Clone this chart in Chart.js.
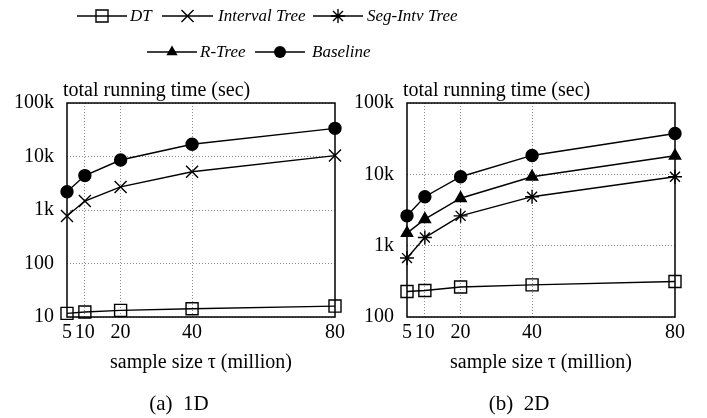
<!DOCTYPE html>
<html>
<head>
<meta charset="utf-8">
<script src="https://cdn.jsdelivr.net/npm/chart.js@4.4.1/dist/chart.umd.min.js"></script>
<style>
  body { margin: 0; background: #fff; }
  #wrap { position: relative; width: 707px; height: 418px; overflow: hidden; }
  canvas { position: absolute; top: 0; }
</style>
</head>
<body>
<div id="wrap">
  <canvas id="legend" width="707" height="80" style="left:0"></canvas>
  <canvas id="c1d" width="350" height="418" style="left:0"></canvas>
  <canvas id="c2d" width="357" height="418" style="left:350px"></canvas>
</div>
<script>
// sample size tau (million)
const sampleSizes = [5, 10, 20, 40, 80];
const xTicks = [5, 10, 20, 40, 80];

// (a) 1D, total running time (sec)
const dt1D = [11.7, 12.4, 13.3, 14.3, 16];
const intervalTree1D = [770, 1470, 2700, 5200, 10400];
const baseline1D = [2200, 4400, 8600, 16900, 33600];
const yTicks1D = [10, 100, 1000, 10000, 100000];

// (b) 2D, total running time (sec)
const dt2D = [228, 235, 263, 282, 314];
const segIntv2D = [670, 1300, 2620, 4860, 9250];
const rTree2D = [1500, 2350, 4620, 9250, 18200];
const baseline2D = [2620, 4860, 9250, 18400, 37300];
const yTicks2D = [100, 1000, 10000, 100000];

const SERIF = '"Liberation Serif", "DejaVu Serif", serif';

// marker look per method
const markers = {
  'DT':            { pointStyle: 'rect',     radius: 8.5, fill: 'rgba(0,0,0,0)' },
  'Interval Tree': { pointStyle: 'crossRot', radius: 8.5, fill: 'rgba(0,0,0,0)' },
  'Seg-Intv Tree': { pointStyle: 'star',     radius: 7,   fill: 'rgba(0,0,0,0)' },
  'R-Tree':        { pointStyle: 'triangle', radius: 6.5, fill: '#000' },
  'Baseline':      { pointStyle: 'circle',   radius: 6,   fill: '#000' }
};

function makeDataset(name, values) {
  const m = markers[name];
  return {
    label: name,
    data: values.map((v, i) => ({ x: sampleSizes[i], y: v })),
    borderColor: '#000',
    borderWidth: 1.4,
    pointStyle: m.pointStyle,
    pointRadius: m.radius,
    pointHoverRadius: m.radius,
    pointBorderColor: '#000',
    pointBackgroundColor: m.fill,
    pointBorderWidth: 1.4,
    tension: 0,
    clip: false
  };
}

function fmtTick(v) {
  if (v >= 1000) return (v / 1000) + 'k';
  return String(v);
}

// frame, title, axis label and caption drawn around the chart area
const framePlugin = {
  id: 'frame',
  afterDraw(chart, args, opts) {
    const { ctx, chartArea: a } = chart;
    ctx.save();
    ctx.strokeStyle = '#000';
    ctx.lineWidth = 1.5;
    ctx.strokeRect(a.left, a.top, a.right - a.left, a.bottom - a.top);
    ctx.fillStyle = '#000';
    ctx.textBaseline = 'alphabetic';
    ctx.font = '20px ' + SERIF;
    ctx.textAlign = 'left';
    ctx.fillText(opts.title, a.left - 4, 96);
    ctx.textAlign = 'center';
    const mid = (a.left + a.right) / 2;
    ctx.fillText(opts.xLabel, mid, 368);
    ctx.font = '21px ' + SERIF;
    ctx.fillText(opts.caption, mid - 22, 410);
    ctx.restore();
  }
};

function makeChart(id, datasets, yMin, yTicks, axisWidth, padRight, caption) {
  return new Chart(document.getElementById(id), {
    type: 'line',
    data: { datasets },
    options: {
      responsive: false,
      animation: false,
      events: [],
      layout: { padding: { top: 103, right: padRight, bottom: 0, left: 0 } },
      scales: {
        x: {
          type: 'linear',
          min: 5,
          max: 80,
          afterBuildTicks: s => { s.ticks = xTicks.map(v => ({ value: v })); },
          afterFit: s => { s.height = 101; },
          grid: {
            drawTicks: false,
            lineWidth: 1,
            color: c => (c.tick && (c.tick.value === 5 || c.tick.value === 80)) ? 'rgba(0,0,0,0)' : '#8a8a8a'
          },
          border: { display: false, dash: [1, 2] },
          ticks: { color: '#000', font: { family: SERIF, size: 20 }, padding: 4, maxRotation: 0, autoSkip: false }
        },
        y: {
          type: 'logarithmic',
          min: yMin,
          max: 100000,
          afterBuildTicks: s => { s.ticks = yTicks.map(v => ({ value: v })); },
          afterFit: s => { s.width = axisWidth; },
          grid: { drawTicks: false, lineWidth: 1, color: '#8a8a8a' },
          border: { display: false, dash: [1, 2] },
          ticks: { color: '#000', font: { family: SERIF, size: 20 }, padding: 13, callback: v => fmtTick(v), autoSkip: false }
        }
      },
      plugins: {
        legend: { display: false },
        tooltip: { enabled: false },
        frame: { title: 'total running time (sec)', xLabel: 'sample size \u03c4 (million)', caption }
      }
    },
    plugins: [framePlugin]
  });
}

makeChart('c1d', [
  makeDataset('DT', dt1D),
  makeDataset('Interval Tree', intervalTree1D),
  makeDataset('Baseline', baseline1D)
], 10, yTicks1D, 67, 15, '(a)  1D');

makeChart('c2d', [
  makeDataset('DT', dt2D),
  makeDataset('Seg-Intv Tree', segIntv2D),
  makeDataset('R-Tree', rTree2D),
  makeDataset('Baseline', baseline2D)
], 100, yTicks2D, 57, 32, '(b)  2D');

// legend across the top
function drawMarker(ctx, style, x, y, r) {
  ctx.beginPath();
  if (style === 'rect') {
    const s = Math.SQRT1_2 * r;
    ctx.rect(x - s, y - s, 2 * s, 2 * s);
    ctx.stroke();
  } else if (style === 'crossRot' || style === 'star') {
    const d = Math.SQRT1_2 * r;
    ctx.moveTo(x - d, y - d); ctx.lineTo(x + d, y + d);
    ctx.moveTo(x - d, y + d); ctx.lineTo(x + d, y - d);
    if (style === 'star') {
      ctx.moveTo(x, y - r); ctx.lineTo(x, y + r);
      ctx.moveTo(x - r, y); ctx.lineTo(x + r, y);
    }
    ctx.stroke();
  } else if (style === 'triangle') {
    for (let k = 0; k < 3; k++) {
      const ang = k * 2 * Math.PI / 3;
      const px = x + Math.sin(ang) * r, py = y - Math.cos(ang) * r;
      if (k === 0) ctx.moveTo(px, py); else ctx.lineTo(px, py);
    }
    ctx.closePath();
    ctx.fill();
  } else {
    ctx.arc(x, y, r, 0, Math.PI * 2);
    ctx.fill();
  }
}

const legendRows = [
  { y: 16, items: [['DT', 77, 127, 130], ['Interval Tree', 162, 213, 218], ['Seg-Intv Tree', 313, 363, 367]] },
  { y: 52, items: [['R-Tree', 147, 197, 200], ['Baseline', 255, 305, 312]] }
];

const lctx = document.getElementById('legend').getContext('2d');
lctx.strokeStyle = '#000';
lctx.fillStyle = '#000';
lctx.lineWidth = 1.4;
lctx.font = 'italic 17px ' + SERIF;
lctx.textBaseline = 'middle';
legendRows.forEach(row => {
  row.items.forEach(([name, x0, x1, tx]) => {
    const m = markers[name];
    lctx.beginPath();
    lctx.moveTo(x0, row.y); lctx.lineTo(x1, row.y);
    lctx.stroke();
    drawMarker(lctx, m.pointStyle, (x0 + x1) / 2, row.y, m.radius);
    lctx.fillText(name, tx, row.y + 1);
  });
});
</script>
</body>
</html>
